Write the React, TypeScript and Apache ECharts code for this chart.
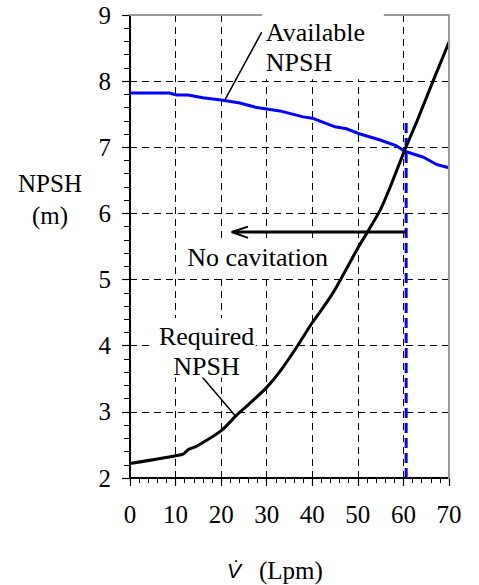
import React, { useEffect, useRef } from "react";
import * as echarts from "echarts";

// Available NPSH (blue) – flow (Lpm) / head (m)
const flowAvail = [0, 8.6, 10.3, 12.7, 16, 20.4, 24.1, 27.8, 32.9, 38, 40, 45, 47.5, 50.5, 54.9, 58.5, 60.3, 64.4, 67.3, 70];
const npshAvail = [7.82, 7.82, 7.79, 7.79, 7.75, 7.71, 7.67, 7.6, 7.55, 7.46, 7.44, 7.31, 7.28, 7.2, 7.11, 7.02, 6.94, 6.85, 6.74, 6.69];

// Required NPSH (black)
const flowReq = [0, 11.6, 12.8, 14.6, 20.1, 23.4, 26, 30, 33, 36.6, 39.9, 42.1, 43.9, 45.4, 50.1, 52.3, 54.9, 57.1, 60, 63, 66.6, 70];
const npshReq = [2.22, 2.36, 2.43, 2.48, 2.72, 2.95, 3.11, 3.37, 3.62, 3.98, 4.34, 4.55, 4.73, 4.9, 5.49, 5.74, 6.05, 6.4, 6.91, 7.4, 8.02, 8.59];

// Operating point marker (dashed vertical) and "no cavitation" arrow
const operatingFlow = [60.6, 60.6];
const operatingHead = [2, 7.44];
const arrowFlow = [60.6, 22.6];
const arrowHead = [5.72, 5.72];
const arrowBarbFlow = [25.9, 22.3, 25.9];
const arrowBarbHead = [5.8, 5.72, 5.63];

// Leader lines of the labels
const availLeaderFlow = [28.9, 20.85];
const availLeaderHead = [8.74, 7.72];
const reqLeaderFlow = [15.7, 23.0];
const reqLeaderHead = [3.54, 2.95];

// Annotation texts
const availLabel = "Available\nNPSH";
const reqLabel = "Required\nNPSH";
const arrowLabel = "No cavitation";
const yTitle = "NPSH\n(m)";
const xTitleSymbol = "V\u0307";
const xTitleUnit = "(Lpm)";

const xMin = 0, xMax = 70, xStep = 10;
const yMin = 2, yMax = 9, yStep = 1;

const serif = "Liberation Serif, Times New Roman, DejaVu Serif, serif";
const sans = "Liberation Sans, Arial, sans-serif";

const pairs = (xs: number[], ys: number[]) => xs.map((x, i) => [x, ys[i]]);

export default function App() {
  const ref = useRef<HTMLDivElement>(null);
  useEffect(() => {
    if (!ref.current) return;
    const chart = echarts.init(ref.current, undefined, { renderer: "svg" });
    const blackLine = (data: number[][], width: number) => ({
      type: "line",
      data,
      showSymbol: false,
      silent: true,
      lineStyle: { color: "#000", width },
      z: 4,
    });
    chart.setOption({
      animation: false,
      backgroundColor: "#fff",
      grid: { left: 130, right: 30, top: 15, bottom: 107, show: false },
      xAxis: [
        {
          type: "value",
          min: xMin,
          max: xMax,
          interval: xStep,
          axisLine: { lineStyle: { color: "#000", width: 2 } },
          axisTick: { length: 8, lineStyle: { color: "#000", width: 1.2 } },
          minorTick: { show: true, splitNumber: 5, length: 5, lineStyle: { color: "#000", width: 1 } },
          splitLine: { show: true, lineStyle: { color: "#000", type: [7, 5], width: 1 } },
          axisLabel: { fontFamily: serif, fontSize: 25, color: "#000", margin: 24 },
        },
        {
          type: "value",
          position: "top",
          z: 6,
          min: xMin,
          max: xMax,
          interval: xStep,
          axisLine: { show: true, onZero: false, lineStyle: { color: "#999", width: 2 } },
          axisTick: { show: false },
          axisLabel: { show: false },
          splitLine: { show: false },
        },
      ],
      yAxis: [
        {
          type: "value",
          min: yMin,
          max: yMax,
          interval: yStep,
          axisLine: { show: true, lineStyle: { color: "#000", width: 2 } },
          axisTick: { show: true, length: 8, lineStyle: { color: "#000", width: 1.2 } },
          minorTick: { show: true, splitNumber: 5, length: 6, lineStyle: { color: "#000", width: 1 } },
          splitLine: { show: true, lineStyle: { color: "#000", type: [7, 5], width: 1 } },
          axisLabel: { fontFamily: serif, fontSize: 25, color: "#000", margin: 19 },
        },
        {
          type: "value",
          position: "right",
          z: 6,
          min: yMin,
          max: yMax,
          interval: yStep,
          axisLine: { show: true, onZero: false, lineStyle: { color: "#999", width: 2 } },
          axisTick: { show: false },
          axisLabel: { show: false },
          splitLine: { show: false },
        },
      ],
      series: [
        {
          name: "Available NPSH",
          type: "line",
          data: pairs(flowAvail, npshAvail),
          showSymbol: false,
          lineStyle: { color: "#0000ff", width: 3 },
          z: 3,
        },
        {
          name: "Operating flow",
          type: "line",
          data: pairs(operatingFlow, operatingHead),
          showSymbol: false,
          lineStyle: { color: "#0000ff", width: 3, type: [10, 5] },
          z: 3,
        },
        {
          name: "Required NPSH",
          type: "line",
          data: pairs(flowReq, npshReq),
          showSymbol: false,
          smooth: 0.2,
          lineStyle: { color: "#000", width: 3 },
          z: 4,
        },
        blackLine(pairs(arrowFlow, arrowHead), 3),
        blackLine(pairs(arrowBarbFlow, arrowBarbHead), 2),
        blackLine(pairs(availLeaderFlow, availLeaderHead), 1.5),
        blackLine(pairs(reqLeaderFlow, reqLeaderHead), 1.5),
      ],
    });

    const px = (x: number, y: number) => chart.convertToPixel({ gridIndex: 0 }, [x, y]) as number[];
    const box = (x0: number, y0: number, x1: number, y1: number) => {
      const a = px(x0, y0);
      const b = px(x1, y1);
      return {
        type: "rect",
        z: 7,
        shape: { x: a[0], y: a[1], width: b[0] - a[0], height: b[1] - a[1] },
        style: { fill: "#fff" },
      };
    };
    const availText = px(29.8, 8.51);
    const noCav = px(28.0, 5.34);
    const reqText = px(16.8, 3.91);

    chart.setOption({
      graphic: [
        box(29.0, 9.05, 55.7, 8.03),
        box(12.1, 5.6, 43.9, 5.06),
        box(5.0, 4.42, 27.6, 3.52),
        {
          type: "text",
          z: 8,
          x: availText[0],
          y: availText[1],
          style: {
            text: availLabel,
            fontFamily: serif,
            fontSize: 26,
            fill: "#000",
            align: "left",
            verticalAlign: "middle",
            lineHeight: 30,
          },
        },
        {
          type: "text",
          z: 8,
          x: noCav[0],
          y: noCav[1],
          style: { text: arrowLabel, fontFamily: serif, fontSize: 26, fill: "#000", align: "center", verticalAlign: "middle" },
        },
        {
          type: "text",
          z: 8,
          x: reqText[0],
          y: reqText[1],
          style: {
            text: reqLabel,
            fontFamily: serif,
            fontSize: 26,
            fill: "#000",
            align: "center",
            verticalAlign: "middle",
            lineHeight: 30,
          },
        },
        {
          type: "text",
          x: 50,
          y: 199,
          style: {
            text: yTitle,
            fontFamily: serif,
            fontSize: 25,
            fill: "#000",
            align: "center",
            verticalAlign: "middle",
            lineHeight: 32,
          },
        },
        {
          type: "text",
          x: 227,
          y: 570,
          style: {
            text: xTitleSymbol,
            fontFamily: sans,
            fontStyle: "italic",
            fontSize: 21,
            fill: "#000",
            align: "left",
            verticalAlign: "middle",
          },
        },
        {
          type: "text",
          x: 259,
          y: 570,
          style: {
            text: xTitleUnit,
            fontFamily: serif,
            fontSize: 25,
            fill: "#000",
            align: "left",
            verticalAlign: "middle",
          },
        },
      ],
    });
    return () => chart.dispose();
  }, []);
  return <div ref={ref} style={{ position: "absolute", left: 0, top: 0, width: 479, height: 585 }} />;
}
